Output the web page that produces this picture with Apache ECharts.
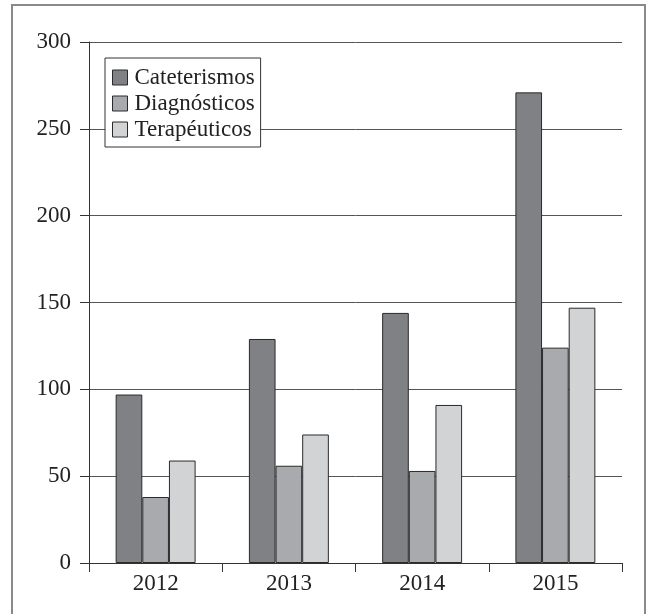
<!DOCTYPE html>
<html><head><meta charset="utf-8">
<script src="https://cdn.jsdelivr.net/npm/echarts@6/dist/echarts.min.js"></script>
<style>html,body{margin:0;padding:0;background:#fff}#c{width:646px;height:614px}</style>
</head><body><div id="c"></div>
<script>
const categories = ['2012', '2013', '2014', '2015'];
const cateterismos = [97, 129, 144, 271];
const diagnosticos = [38, 56, 53, 124];
const terapeuticos = [59, 74, 91, 147];
const seriesNames = ['Cateterismos', 'Diagnósticos', 'Terapéuticos'];

const font = '"Liberation Serif", "DejaVu Serif", serif';
const chart = echarts.init(document.getElementById('c'), null, {renderer: 'canvas'});
const mk = (name, data, color) => ({
  name, type: 'bar', data, barGap: '0%', barCategoryGap: '40%',
  itemStyle: {color, borderColor: '#2a2a2a', borderWidth: 1}
});
chart.setOption({
  animation: false,
  graphic: [{type: 'rect', shape: {x: 12, y: 5, width: 633, height: 640},
    style: {fill: 'none', stroke: '#8a8a8a', lineWidth: 2}, z: -1}],
  grid: {left: 89, right: 24, top: 42, bottom: 51},
  legend: {
    orient: 'vertical', left: 105, top: 58, padding: [8, 6, 6, 7],
    itemWidth: 15, itemHeight: 15, itemGap: 3,
    backgroundColor: '#fff', borderColor: '#333', borderWidth: 1,
    icon: 'rect',
    itemStyle: {borderColor: '#2a2a2a', borderWidth: 1},
    textStyle: {fontFamily: font, fontSize: 23, color: '#222', padding: [0, 0, 0, 2]},
    data: seriesNames
  },
  xAxis: {
    type: 'category', data: categories,
    axisLine: {lineStyle: {color: '#333', width: 1}},
    axisTick: {show: true, length: 9, alignWithLabel: false, lineStyle: {color: '#333'}},
    axisLabel: {fontFamily: font, fontSize: 23, color: '#222', margin: 9}
  },
  yAxis: {
    type: 'value', min: 0, max: 300, interval: 50,
    axisLine: {show: true, lineStyle: {color: '#333', width: 1}},
    axisTick: {show: true, length: 9, lineStyle: {color: '#333'}},
    axisLabel: {fontFamily: font, fontSize: 23, color: '#222', margin: 18},
    splitLine: {lineStyle: {color: '#555', width: 1}}
  },
  series: [
    mk(seriesNames[0], cateterismos, '#808185'),
    mk(seriesNames[1], diagnosticos, '#a9aaad'),
    mk(seriesNames[2], terapeuticos, '#d2d3d5')
  ]
});
</script></body></html>
